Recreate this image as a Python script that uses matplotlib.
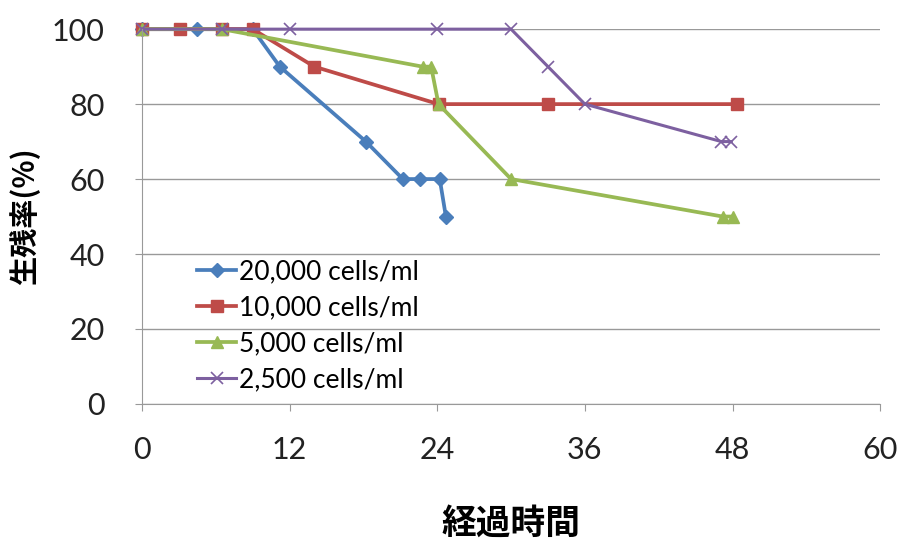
import matplotlib
matplotlib.use("Agg")
import matplotlib.pyplot as plt

plt.rcParams["font.family"] = ["Lato", "Noto Sans CJK JP", "DejaVu Sans"]

# survival (%) vs elapsed time (h)
t_20000 = [0, 4.5, 9, 11.2, 18.2, 21.2, 22.6, 24.2, 24.7]
s_20000 = [100, 100, 100, 90, 70, 60, 60, 60, 50]

t_10000 = [0, 3.1, 6.5, 9, 14, 24.1, 33, 48.4]
s_10000 = [100, 100, 100, 100, 90, 80, 80, 80]

t_5000 = [0, 6.5, 22.8, 23.5, 24.1, 30, 47.2, 48]
s_5000 = [100, 100, 90, 90, 80, 60, 50, 50]

t_2500 = [0, 6.5, 12, 24, 30, 33, 36, 47.1, 47.9]
s_2500 = [100, 100, 100, 100, 100, 90, 80, 70, 70]

labels = ["20,000 cells/ml", "10,000 cells/ml", "5,000 cells/ml", "2,500 cells/ml"]
x_ticks = [0, 12, 24, 36, 48, 60]
y_ticks = [0, 20, 40, 60, 80, 100]

fig = plt.figure(figsize=(8.99, 5.40), dpi=100)
ax = fig.add_axes([0.158, 0.252, 0.821, 0.694])

kw = dict(lw=2.7, clip_on=False)
ax.plot(t_20000, s_20000, color="#4A7EBB", marker="D", ms=7, label=labels[0], **kw)
ax.plot(t_10000, s_10000, color="#BE4B48", marker="s", ms=9, label=labels[1], **kw)
ax.plot(t_5000, s_5000, color="#98B954", marker="^", ms=9, label=labels[2], **kw)
ax.plot(t_2500, s_2500, color="#7D60A0", lw=2.2, marker="x", ms=9, mew=1.2,
        label=labels[3], clip_on=False)

ax.set_xlim(0, 60)
ax.set_ylim(0, 100)
ax.set_xticks(x_ticks)
ax.set_yticks(y_ticks)
ax.tick_params(labelsize=22, colors="#222222", length=5, color="#999999")
ax.tick_params(axis="x", pad=18)
ax.tick_params(axis="y", pad=22)
ax.yaxis.grid(True, color="#999999", lw=1)
ax.set_axisbelow(True)
for s in ["top", "right"]:
    ax.spines[s].set_visible(False)
for s in ["left", "bottom"]:
    ax.spines[s].set_color("#999999")

ax.set_ylabel("生残率(%)", fontsize=21, fontweight="bold",
              family=["Noto Sans CJK JP", "DejaVu Sans"], labelpad=8)
ax.set_xlabel("経過時間", fontsize=25, fontweight="bold",
              family=["Noto Sans CJK JP", "DejaVu Sans"], labelpad=30)

ax.legend(loc="upper left", bbox_to_anchor=(0.06, 0.415), frameon=False,
          fontsize=19, handlelength=1.5, handletextpad=0.1, labelspacing=0.42,
          borderaxespad=0)

fig.savefig("out.png", dpi=100)
plt.close()
